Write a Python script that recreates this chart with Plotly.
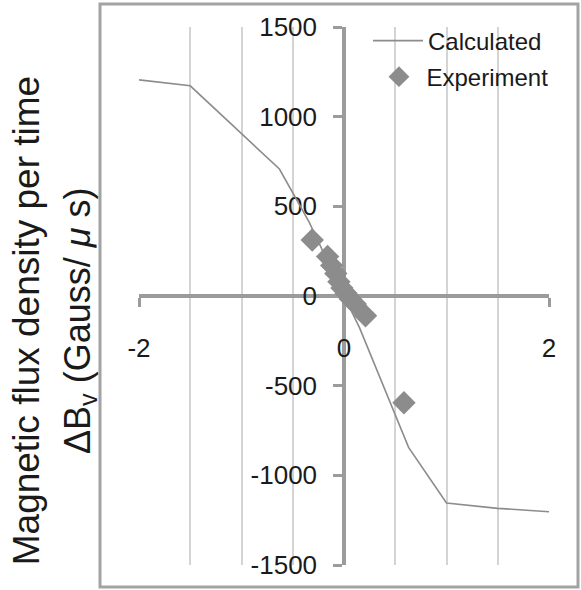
import plotly.graph_objects as go

# Calculated curve
calc_x = [-2.0, -1.5, -0.63, -0.34, 0.0, 0.15, 0.63, 1.0, 1.5, 2.0]
calc_y = [1205, 1172, 708, 412, 0, -175, -844, -1154, -1184, -1203]

# Experiment points
exp_x = [-0.31, -0.16, -0.12, -0.08, -0.05, -0.02, 0.02, 0.06, 0.11, 0.21, 0.585]
exp_y = [312, 220, 170, 125, 80, 45, 15, -15, -45, -110, -595]

x_ticks = [-2, 0, 2]
x_labels = ["-2", "0", "2"]
y_ticks = [-1500, -1000, -500, 0, 500, 1000, 1500]
y_labels = ["-1500", "-1000", "-500", "0", "500", "1000", "1500"]
y_grid = [-1000, -500, 500, 1000]

AX = "#9b9b9b"
GRID = "#d4d4d4"
SER = "#8c8c8c"
FONT = "Liberation Sans, Arial, sans-serif"

fig = go.Figure()
fig.add_trace(go.Scatter(x=calc_x, y=calc_y, mode="lines", name="Calculated",
                         line=dict(color=SER, width=1.6), legend="legend"))
fig.add_trace(go.Scatter(x=exp_x, y=exp_y, mode="markers", name="Experiment",
                         marker=dict(symbol="diamond", size=18, color=SER),
                         legend="legend2"))

fig.update_layout(
    width=581, height=590,
    margin=dict(l=139, r=32, t=27, b=25, autoexpand=False),
    paper_bgcolor="white", plot_bgcolor="white",
    font=dict(family=FONT, color="#1a1a1a"),
    xaxis=dict(range=[-2, 2], anchor="free", position=0.5, automargin=False,
               showline=True, linecolor=AX, linewidth=3.5,
               ticks="outside", ticklen=9, tickwidth=3, tickcolor=AX,
               tickvals=x_ticks, ticktext=x_labels, showgrid=False, zeroline=False,
               tickfont=dict(size=26, family=FONT, color="#1a1a1a"),
               ticklabelstandoff=19, layer="below traces",
               minor=dict(dtick=0.5, tick0=0, showgrid=True,
                          gridcolor=GRID, gridwidth=1.8, ticks="")),
    yaxis=dict(range=[-1500, 1500], anchor="free", position=0.5, automargin=False,
               showline=True, linecolor=AX, linewidth=3.5,
               ticks="outside", ticklen=9, tickwidth=3, tickcolor=AX,
               tickvals=y_ticks, ticktext=y_labels, showgrid=False, zeroline=False,
               tickfont=dict(size=26, family=FONT, color="#1a1a1a"),
               ticklabelstandoff=11, layer="below traces"),
    yaxis2=dict(range=[-1500, 1500], overlaying="y", anchor="free", position=0.5,
                automargin=False,
                tickvals=y_grid, showgrid=True, gridcolor=GRID, gridwidth=1.8,
                showticklabels=False, ticks="", showline=False, zeroline=False),
    legend=dict(x=0.5585, y=0.974, xanchor="left", yanchor="middle",
                bgcolor="rgba(0,0,0,0)", itemwidth=50,
                font=dict(size=24, family=FONT, color="#1a1a1a")),
    legend2=dict(x=0.567, y=0.907, xanchor="left", yanchor="middle",
                 bgcolor="rgba(0,0,0,0)", itemwidth=45,
                 font=dict(size=24, family=FONT, color="#1a1a1a")),
    showlegend=True,
)

fig.add_shape(type="rect", xref="paper", yref="paper",
              x0=-0.0951, x1=1.0707, y0=-0.0409, y1=1.0428,
              line=dict(color="#a3a3a3", width=3), fillcolor="rgba(0,0,0,0)")

fig.add_annotation(text="Magnetic flux density per time", textangle=-90,
                   xref="paper", yref="paper", x=-0.275, y=0.4535,
                   xanchor="center", yanchor="middle", showarrow=False,
                   font=dict(size=37, family=FONT, color="#1a1a1a"))
fig.add_annotation(text="ΔB<sub>v</sub> (Gauss/ <i>μ</i> s)", textangle=-90,
                   xref="paper", yref="paper", x=-0.144, y=0.4535,
                   xanchor="center", yanchor="middle", showarrow=False,
                   font=dict(size=36, family=FONT, color="#1a1a1a"))

fig.write_html("out.html", config={"displayModeBar": False},
               post_script="document.body.style.margin='0';document.body.style.overflow='hidden';")
